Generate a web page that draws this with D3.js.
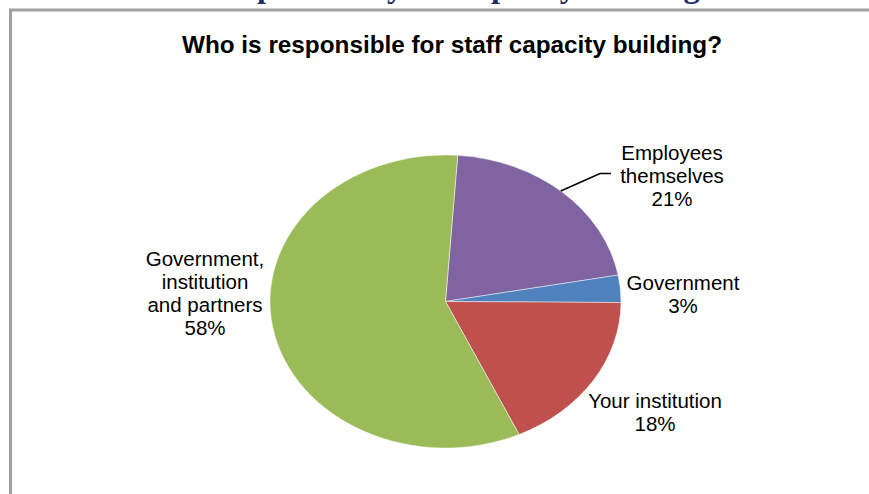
<!DOCTYPE html>
<html>
<head>
<meta charset="utf-8">
<script src="https://cdn.jsdelivr.net/npm/d3@7/dist/d3.min.js"></script>
<style>
  html, body { margin: 0; padding: 0; background: #fff; }
  svg { display: block; }
</style>
</head>
<body>
<script>
// Survey answers, listed clockwise from the top of the pie
const categories = ["Employees themselves", "Government", "Your institution", "Government, institution and partners"];
const shares = [21, 3, 18, 58];
const labelLines = [
  ["Employees", "themselves", "21%"],
  ["Government", "3%"],
  ["Your institution", "18%"],
  ["Government,", "institution", "and partners", "58%"]
];
const sliceColors = ["#8064A2", "#4F81BD", "#C0504D", "#9BBB59"];

const W = 869, H = 494;
const svg = d3.select("body").append("svg").attr("width", W).attr("height", H);

// Section heading above the chart frame
svg.append("text")
  .attr("x", 453).attr("y", -3.5)
  .attr("text-anchor", "middle")
  .attr("font-family", "Liberation Serif, Times New Roman, serif")
  .attr("font-weight", "bold")
  .attr("font-size", 32.5)
  .attr("fill", "#1b2f6b")
  .text("Responsibility for capacity building");

// Chart frame
svg.append("rect")
  .attr("x", 10.5).attr("y", 10)
  .attr("width", W + 20).attr("height", H + 20)
  .attr("fill", "#fff")
  .attr("stroke", "#a0a0a0")
  .attr("stroke-width", 3);

svg.append("text")
  .attr("x", 452).attr("y", 53)
  .attr("text-anchor", "middle")
  .attr("font-family", "Liberation Sans, Arial, sans-serif")
  .attr("font-weight", "bold")
  .attr("font-size", 24.3)
  .attr("fill", "#000")
  .text("Who is responsible for staff capacity building?");

// Elliptical pie: draw on a circle of radius rx, squash vertically
const cx = 445.5, cy = 301.5, rx = 175.5, ry = 146.5;
const startOffset = 4 * Math.PI / 180;

const pie = d3.pie().sort(null).value(d => d)
  .startAngle(startOffset).endAngle(startOffset + 2 * Math.PI);
const arcs = pie(shares);
const arc = d3.arc().innerRadius(0).outerRadius(rx);

const pieG = svg.append("g")
  .attr("transform", `translate(${cx},${cy}) scale(1,${ry / rx})`);

pieG.selectAll("path")
  .data(arcs)
  .join("path")
  .attr("d", arc)
  .attr("fill", (d, i) => sliceColors[i])
  .attr("stroke", "#ffffff")
  .attr("stroke-opacity", 0.6)
  .attr("stroke-width", 0.8)
  .attr("vector-effect", "non-scaling-stroke");

// Maps a pie angle and radius factor to page coordinates on the ellipse
function onEllipse(angle, k) {
  return [cx + Math.sin(angle) * rx * k, cy - Math.cos(angle) * ry * k];
}

// Label anchor positions (centre x, first baseline y)
const labelPos = [[672, 160], [683, 290], [655, 408], [205, 266]];
const lineGap = 23;

const labels = svg.append("g")
  .attr("font-family", "Liberation Sans, Arial, sans-serif")
  .attr("font-size", 20.5)
  .attr("fill", "#000")
  .attr("text-anchor", "middle");

labelLines.forEach((lines, i) => {
  const t = labels.append("text").attr("x", labelPos[i][0]).attr("y", labelPos[i][1]);
  lines.forEach((ln, j) => {
    t.append("tspan").attr("x", labelPos[i][0]).attr("y", labelPos[i][1] + j * lineGap).text(ln);
  });
});

// Leader line from the purple slice to its label
const a0 = arcs[0];
const leaderAngle = a0.startAngle + (a0.endAngle - a0.startAngle) * 0.49;
const p0 = onEllipse(leaderAngle, 1.0);
svg.append("polyline")
  .attr("points", [p0, [600, 173.5], [611, 173.5]].map(p => p.join(",")).join(" "))
  .attr("fill", "none")
  .attr("stroke", "#000")
  .attr("stroke-width", 1.6);
</script>
</body>
</html>
